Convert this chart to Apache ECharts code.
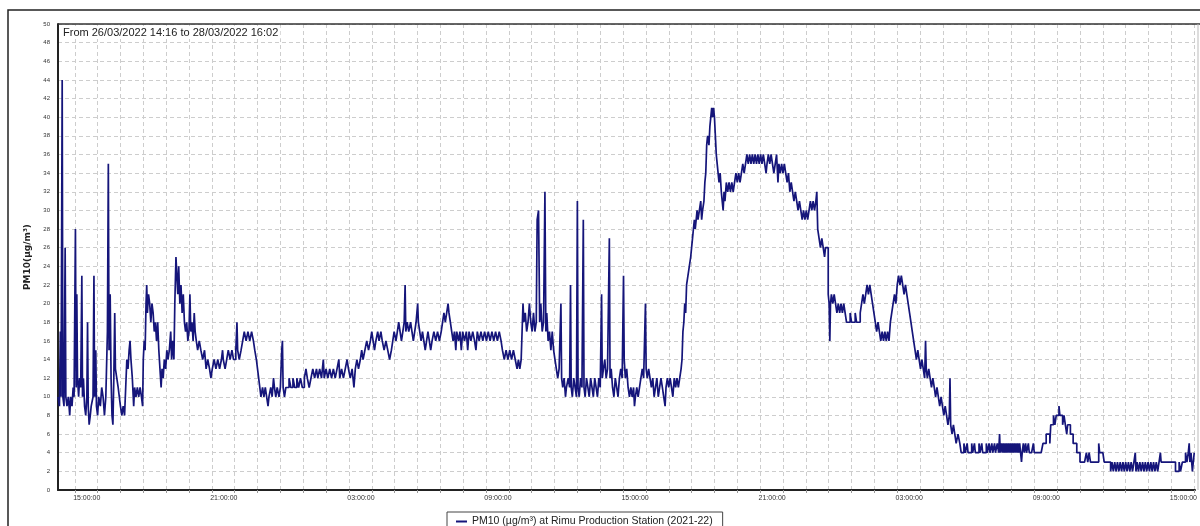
<!DOCTYPE html>
<html>
<head>
<meta charset="utf-8">
<script src="https://cdn.jsdelivr.net/npm/echarts@6/dist/echarts.min.js"></script>
<style>
html,body{margin:0;padding:0;background:#fff;}
#chart{width:1200px;height:526px;}
</style>
</head>
<body>
<div id="chart"></div>
<script>
// Time in hours since 26/03/2022 00:00, PM10 in µg/m³
const startHour = 14 + 16 / 60;   // 26/03/2022 14:16
const endHour = 64 + 2 / 60;      // 28/03/2022 16:02
const tickHours = [];
for (let h = 15; h <= 64; h++) tickHours.push(h);
const labelHours = [15, 21, 27, 33, 39, 45, 51, 57, 63];
const yTicks = [0, 50, 2];
const titleText = 'From 26/03/2022 14:16 to 28/03/2022 16:02';
const seriesName = 'PM10 (µg/m³) at Rimu Production Station (2021-22)';
const yName = 'PM10(µg/m³)';

const segA = [[14.27,10],[14.33,9],[14.37,17],[14.40,10],[14.45,44],[14.48,10],[14.53,9],[14.58,26],[14.61,10],[14.66,9],[14.72,10],[14.78,8],[14.82,10],[14.88,9],[14.93,11],[14.97,10],[15.03,28],[15.06,11],[15.09,21],[15.12,12],[15.17,10],[15.21,12],[15.26,11],[15.31,23],[15.34,10],[15.38,12],[15.43,9],[15.48,8],[15.53,10],[15.56,18],[15.59,9],[15.63,7],[15.68,8],[15.72,9],[15.80,10],[15.84,23],[15.87,10],[15.92,15],[15.95,9],[16.00,8],[16.05,10],[16.12,9],[16.18,11],[16.24,10],[16.30,8],[16.36,10],[16.43,17],[16.47,35],[16.50,15],[16.55,21],[16.59,12],[16.63,8],[16.67,7],[16.71,12],[16.75,19],[16.78,13],[16.84,12],[16.90,11],[16.95,10],[17.00,9],[17.06,8],[17.12,9],[17.18,8],[17.23,11],[17.28,14],[17.33,13],[17.38,15],[17.42,16],[17.46,14],[17.52,12],[17.58,9],[17.62,11],[17.68,10],[17.74,11],[17.80,10],[17.86,11],[17.92,10],[17.97,9]];

const segB = [[18.00,14],[18.04,16],[18.08,15],[18.12,20],[18.15,22],[18.18,19],[18.23,21],[18.28,20],[18.33,18],[18.38,20],[18.43,19],[18.48,17],[18.53,18],[18.58,16],[18.63,18],[18.68,15],[18.73,13],[18.78,11],[18.82,13],[18.87,12],[18.92,14],[18.98,13],[19.03,15],[19.08,14],[19.14,15],[19.20,17],[19.24,14],[19.29,16],[19.34,14],[19.38,20],[19.43,25],[19.47,23],[19.51,21],[19.55,24],[19.60,20],[19.65,22],[19.70,19],[19.75,21],[19.80,18],[19.85,17],[19.90,18],[19.95,16],[20.00,17],[20.04,21],[20.08,17],[20.13,18],[20.18,16],[20.23,19],[20.27,17],[20.32,16],[20.38,15],[20.45,16],[20.52,15],[20.60,14],[20.68,15],[20.75,13],[20.82,14],[20.90,13],[20.96,12]];

const segC = [[21.02,13],[21.10,14],[21.18,13],[21.26,14],[21.34,13],[21.42,14],[21.47,15],[21.50,14],[21.58,13],[21.65,14],[21.72,15],[21.80,14],[21.88,15],[21.95,14],[22.05,15],[22.10,18],[22.13,15],[22.20,14],[22.28,15],[22.35,16],[22.42,17],[22.50,16],[22.58,17],[22.66,16],[22.74,17],[22.82,16],[22.88,15],[22.95,14],[23.00,13],[23.05,12],[23.10,11],[23.15,10],[23.22,11],[23.28,10],[23.34,11],[23.40,10],[23.46,9],[23.50,10],[23.58,11],[23.64,10],[23.70,12],[23.74,11],[23.80,10],[23.86,11],[23.94,10],[24.00,11],[24.06,15],[24.09,16],[24.12,11],[24.18,10],[24.24,11]];

const segD = [[24.30,11],[24.38,12],[24.46,11],[24.55,12],[24.63,11],[24.72,12],[24.80,11],[24.88,12],[24.96,11],[25.05,12],[25.12,13],[25.18,12],[25.26,11],[25.34,12],[25.42,13],[25.50,12],[25.58,13],[25.64,12],[25.72,13],[25.80,12],[25.88,14],[25.92,12],[26.00,13],[26.08,12],[26.16,13],[26.24,12],[26.32,13],[26.40,12],[26.48,13],[26.56,14],[26.60,12],[26.68,13],[26.76,12],[26.84,13],[26.92,14],[26.98,13],[27.06,12],[27.14,13],[27.22,11],[27.28,13]];

const segE = [[27.35,14],[27.42,13],[27.50,14],[27.56,15],[27.62,14],[27.70,15],[27.78,16],[27.86,15],[27.94,16],[28.00,17],[28.06,16],[28.12,15],[28.18,16],[28.26,17],[28.32,16],[28.40,17],[28.46,16],[28.54,15],[28.62,16],[28.70,15],[28.78,14],[28.86,15],[28.92,16],[28.98,17],[29.06,16],[29.12,17],[29.18,18],[29.24,17],[29.30,16],[29.36,17],[29.42,18]];

const segF = [[29.46,22],[29.49,17],[29.55,18],[29.62,17],[29.70,18],[29.76,17],[29.82,16],[29.88,17],[29.94,18],[30.01,20],[30.04,18],[30.10,17],[30.16,16],[30.22,17],[30.28,16],[30.34,15],[30.40,16],[30.46,17],[30.52,16],[30.58,15],[30.64,16],[30.72,17],[30.80,16],[30.88,17],[30.96,16],[31.04,17],[31.10,18],[31.16,19],[31.22,18],[31.28,19],[31.34,20],[31.38,19],[31.44,18],[31.50,17],[31.56,16],[31.62,17],[31.68,15],[31.72,17],[31.80,16],[31.86,17],[31.92,15],[31.98,17],[32.06,16],[32.14,17],[32.20,15],[32.26,17],[32.34,16],[32.42,17],[32.50,16],[32.56,15],[32.62,17],[32.70,16],[32.78,17],[32.86,16],[32.94,17],[33.02,16],[33.10,17],[33.18,16],[33.26,17],[33.34,16],[33.42,17],[33.50,16],[33.58,17],[33.66,16],[33.72,15],[33.80,14],[33.88,15],[33.96,14],[34.04,15],[34.12,14],[34.20,15],[34.28,14],[34.36,13],[34.42,14],[34.48,13],[34.54,14]];

const segG = [[34.58,17],[34.62,20],[34.66,18],[34.72,19],[34.78,17],[34.84,18],[34.90,20],[34.96,18],[35.02,17],[35.08,19],[35.14,17],[35.20,18],[35.24,29],[35.30,30],[35.35,18],[35.40,20],[35.46,17],[35.52,18],[35.58,32],[35.62,17],[35.66,19],[35.72,16],[35.78,17],[35.84,15],[35.90,17],[35.96,15],[36.02,14],[36.08,13],[36.14,12],[36.20,13],[36.28,20],[36.31,12],[36.36,11],[36.42,12],[36.48,10],[36.52,11],[36.60,12],[36.66,11],[36.70,22],[36.73,11],[36.78,10],[36.84,12],[36.90,11],[36.96,10],[37.00,31],[37.03,11],[37.08,10],[37.14,12],[37.20,11],[37.26,29],[37.29,11],[37.34,10],[37.40,12],[37.46,11],[37.52,10],[37.58,12],[37.64,11],[37.70,10],[37.76,12],[37.82,11],[37.88,10],[37.94,12],[38.00,11],[38.06,21],[38.09,12],[38.14,13],[38.20,14],[38.26,12],[38.32,13],[38.40,27],[38.43,12],[38.48,13],[38.54,11],[38.60,10],[38.66,12],[38.72,11],[38.78,10],[38.84,12],[38.90,13],[38.96,12],[39.02,23],[39.05,14],[39.10,12],[39.16,13],[39.22,11],[39.28,10],[39.34,11],[39.40,10],[39.46,11],[39.50,9],[39.54,10],[39.60,11],[39.66,10],[39.72,11],[39.78,12],[39.84,13],[39.90,12],[39.98,20],[40.01,13],[40.06,12],[40.12,13],[40.18,12],[40.24,11],[40.30,12],[40.36,10],[40.42,11],[40.48,12],[40.54,10],[40.60,11],[40.66,12],[40.72,11],[40.78,10],[40.84,9],[40.88,11],[40.94,12],[41.00,11],[41.06,12],[41.12,11],[41.18,10],[41.24,12],[41.30,11],[41.36,12],[41.42,11],[41.48,12],[41.54,13]];

const segH = [[41.58,14],[41.62,17],[41.66,18],[41.70,20],[41.74,19],[41.78,22],[41.84,23],[41.90,24],[41.96,25],[42.00,26],[42.04,27],[42.08,28],[42.12,29],[42.16,28],[42.20,29],[42.24,30],[42.28,29],[42.34,30],[42.40,31],[42.44,29],[42.48,30],[42.54,31],[42.58,33],[42.62,34],[42.66,37],[42.70,38],[42.76,37],[42.80,39],[42.84,40],[42.88,41],[42.92,40],[42.96,41],[43.00,40],[43.04,38],[43.08,36],[43.12,35],[43.16,34],[43.20,33],[43.25,34],[43.30,32],[43.34,31],[43.38,30],[43.42,32],[43.46,31],[43.52,33],[43.58,32],[43.64,33],[43.70,32],[43.76,33],[43.82,32],[43.88,33],[43.94,34],[44.00,33],[44.06,34],[44.12,33],[44.18,34],[44.24,35],[44.30,34],[44.36,35],[44.42,36],[44.48,35],[44.54,36],[44.60,35],[44.66,36],[44.72,35],[44.78,36],[44.84,35],[44.90,36],[44.96,35],[45.02,36],[45.08,35],[45.14,36],[45.20,35],[45.26,34],[45.30,35],[45.36,36],[45.42,35],[45.48,36],[45.54,35],[45.60,34],[45.66,35],[45.72,36],[45.78,33],[45.82,35],[45.88,34],[45.94,35],[46.00,34],[46.06,35],[46.12,34],[46.18,33],[46.24,34],[46.30,32],[46.36,33],[46.42,32],[46.48,31],[46.54,32],[46.60,31],[46.66,30],[46.72,31],[46.78,30],[46.84,29],[46.90,30],[46.96,29],[47.02,30],[47.08,29],[47.14,30],[47.20,31],[47.26,30],[47.32,31],[47.38,30],[47.44,31],[47.48,32],[47.52,28],[47.58,27],[47.64,26],[47.70,27],[47.76,26],[47.82,25],[47.86,26]];

const segI = [[47.98,21],[48.02,20],[48.05,16],[48.08,20],[48.12,21],[48.18,20],[48.24,21],[48.30,20],[48.36,19],[48.42,20],[48.48,19],[48.54,20],[48.60,19],[48.66,20],[48.72,19],[48.78,18],[48.86,18],[48.94,19],[49.00,18],[49.08,18],[49.16,19],[49.22,18],[49.30,18],[49.38,19],[49.44,20],[49.50,21],[49.56,20],[49.62,21],[49.68,22],[49.74,21],[49.80,22],[49.86,21],[49.92,20],[49.98,19],[50.04,18],[50.10,17],[50.16,18],[50.22,17],[50.28,16],[50.34,17],[50.40,16],[50.46,17],[50.52,16],[50.58,17],[50.64,16],[50.70,18],[50.76,19],[50.82,20],[50.88,21],[50.94,20],[51.00,22],[51.06,23],[51.12,22],[51.18,23],[51.24,22],[51.30,21],[51.36,22],[51.42,21],[51.48,20],[51.54,19],[51.60,18],[51.66,17],[51.72,16],[51.78,15],[51.84,14],[51.90,15],[51.96,14],[52.02,13],[52.08,14],[52.14,13],[52.20,12],[52.24,16],[52.27,13],[52.32,12],[52.38,13],[52.44,12],[52.50,11],[52.56,12],[52.62,11],[52.68,10],[52.74,11],[52.80,10],[52.86,9],[52.92,10],[52.98,9],[53.04,8],[53.10,9],[53.16,8],[53.22,7],[53.28,8],[53.31,12],[53.34,7],[53.40,6],[53.46,7],[53.52,6],[53.58,5],[53.66,6],[53.74,5],[53.80,4]];

const segJ = [[53.86,4],[53.92,5],[53.98,4],[54.06,5],[54.10,4],[54.18,4],[54.26,5],[54.30,4],[54.38,5],[54.42,4],[54.50,4],[54.58,5],[54.62,4],[54.70,5],[54.74,4],[54.82,4],[54.90,5],[54.94,4],[55.02,5],[55.06,4],[55.14,5],[55.18,4],[55.26,5],[55.30,4],[55.38,5],[55.44,4],[55.48,6],[55.51,4],[55.56,5],[55.60,4],[55.64,5],[55.68,4],[55.72,5],[55.76,4],[55.80,5],[55.84,4],[55.88,5],[55.92,4],[55.96,5],[56.00,4],[56.04,5],[56.08,4],[56.12,5],[56.16,4],[56.20,5],[56.24,4],[56.28,5],[56.32,4],[56.36,5],[56.40,4],[56.44,3],[56.47,4],[56.52,5],[56.56,4],[56.62,5],[56.66,4],[56.74,5],[56.78,4],[56.88,4],[56.96,5],[57.00,4],[57.10,4],[57.20,4],[57.30,4],[57.38,5],[57.46,5],[57.52,6],[57.60,6],[57.68,5],[57.72,7],[57.78,7],[57.84,8],[57.90,7],[57.96,8],[58.02,8],[58.08,9],[58.12,8],[58.18,8],[58.24,7],[58.30,8],[58.36,7],[58.42,6],[58.46,7],[58.52,7],[58.58,6],[58.64,6],[58.70,5],[58.78,5],[58.86,4],[58.94,4],[59.00,3],[59.10,3],[59.20,3],[59.28,4],[59.34,3],[59.40,4],[59.46,3],[59.56,3],[59.66,3],[59.74,3],[59.82,5],[59.86,4],[59.92,4],[60.00,4],[60.06,3],[60.14,3],[60.24,3],[60.34,2],[60.40,3],[60.46,2],[60.52,3],[60.58,2],[60.64,3],[60.70,2],[60.76,3],[60.82,2],[60.88,3],[60.94,2],[61.00,3],[61.06,2],[61.12,3],[61.18,2],[61.24,3],[61.30,2],[61.36,3],[61.42,4],[61.45,2],[61.50,3],[61.56,2],[61.62,3],[61.68,2],[61.74,3],[61.80,2],[61.86,3],[61.92,2],[61.98,3],[62.04,2],[62.10,3],[62.16,2],[62.22,3],[62.28,2],[62.34,3],[62.40,2],[62.46,3],[62.52,4],[62.55,3],[62.64,3],[62.74,3],[62.84,3],[62.94,3],[63.04,3],[63.12,3],[63.18,2],[63.26,2],[63.34,3],[63.40,2],[63.48,3],[63.56,3],[63.62,4],[63.68,3],[63.74,4],[63.78,5],[63.81,3],[63.86,4],[63.92,2],[63.96,3],[64.00,4],[64.03,4]];

const readings = [].concat(segA, segB, segC, segD, segE, segF, segG, segH, segI, segJ);

function hourLabel(v) {
  const h = ((Math.round(v) % 24) + 24) % 24;
  return (h < 10 ? '0' : '') + h + ':00:00';
}

const chart = echarts.init(document.getElementById('chart'), null, {renderer: 'canvas'});
const lineColor = '#15157a';
const gridDash = {type: [4, 3], color: '#cdcdcd', width: 1};

chart.setOption({
  animation: false,
  backgroundColor: '#ffffff',
  textStyle: {fontFamily: 'Liberation Sans, DejaVu Sans, sans-serif'},
  title: {
    text: titleText,
    left: 61, top: 26,
    padding: [1, 2],
    backgroundColor: '#ffffff',
    textStyle: {fontSize: 11, fontWeight: 'normal', color: '#222', fontFamily: 'Liberation Sans'}
  },
  legend: {
    data: [seriesName],
    left: 447, top: 512,
    borderColor: '#444', borderWidth: 1,
    padding: [4, 10, 10, 9],
    itemWidth: 11, itemHeight: 2, icon: 'rect',
    itemGap: 8,
    textStyle: {fontSize: 10.5, color: '#222', fontFamily: 'Liberation Sans'}
  },
  grid: {left: 58, right: 2, top: 24, bottom: 36, containLabel: false},
  graphic: [
    {type: 'rect', shape: {x: 8, y: 10, width: 1250, height: 600}, style: {fill: 'none', stroke: '#222', lineWidth: 1.5}, silent: true},
    {type: 'line', shape: {x1: 58, y1: 24, x2: 1200, y2: 24}, style: {stroke: '#333', lineWidth: 1.5}, silent: true, z: 10},
    {type: 'line', shape: {x1: 1198, y1: 24, x2: 1198, y2: 490}, style: {stroke: '#bbb', lineWidth: 1}, silent: true, z: 10}
  ],
  xAxis: {
    type: 'value',
    min: startHour, max: endHour,
    axisLine: {show: true, onZero: false, lineStyle: {color: '#222', width: 2}},
    axisTick: {show: true, customValues: tickHours, length: 3, lineStyle: {color: '#999'}},
    axisLabel: {
      customValues: labelHours,
      formatter: hourLabel,
      fontSize: 7, color: '#333', margin: 5,
      padding: [0, 0, 0, 24]
    },
    splitLine: {show: true, lineStyle: gridDash}
  },
  yAxis: {
    type: 'value',
    min: yTicks[0], max: yTicks[1], interval: yTicks[2],
    name: yName,
    nameLocation: 'middle',
    nameGap: 24,
    nameTextStyle: {fontSize: 9, fontWeight: 'bold', color: '#222', fontFamily: 'DejaVu Sans'},
    axisLine: {show: true, lineStyle: {color: '#222', width: 2}},
    axisTick: {show: false},
    axisLabel: {fontSize: 6, color: '#333', margin: 8},
    splitLine: {show: true, lineStyle: gridDash}
  },
  series: [{
    name: seriesName,
    type: 'line',
    step: 'end',
    data: readings,
    showSymbol: false,
    sampling: null,
    lineStyle: {color: lineColor, width: 1.7},
    itemStyle: {color: lineColor},
    z: 5
  }]
});
</script>
</body>
</html>
